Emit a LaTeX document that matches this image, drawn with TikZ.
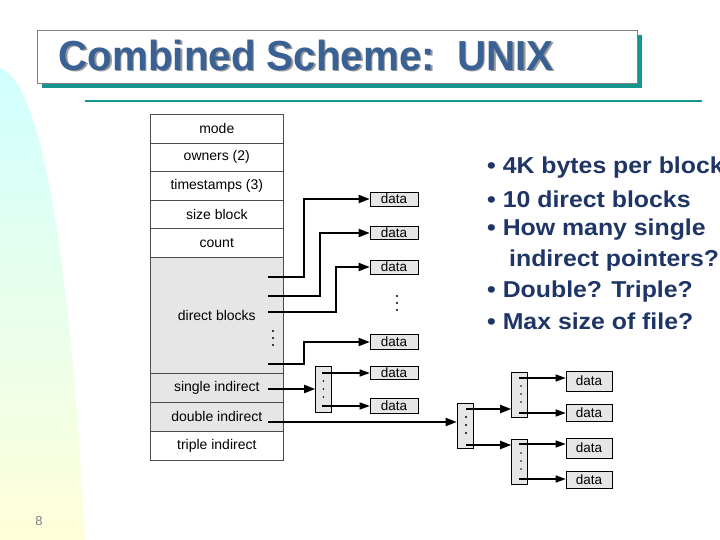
\documentclass[tikz,border=0pt]{standalone}
\usepackage{fontspec}
\setmainfont{Liberation Sans}
\usetikzlibrary{arrows.meta}
\definecolor{teal1}{HTML}{14968E}
\definecolor{titleblue}{HTML}{3A6194}
\definecolor{txtblue}{HTML}{1F3566}
\definecolor{cellgray}{HTML}{E6E6E6}
\begin{document}
\begin{tikzpicture}[x=1pt,y=-1pt,
  cell/.style={draw=black!70,line width=0.6pt,minimum width=133pt,inner sep=0pt,font=\fontsize{14}{14}\selectfont,anchor=north west},
  data/.style={draw=black,fill=cellgray,line width=0.6pt,minimum width=48pt,inner sep=0pt,font=\fontsize{13.5}{13.5}\selectfont},
  ind/.style={draw=black,fill=cellgray,line width=0.6pt,minimum width=16pt,inner sep=0pt},
  ptr/.style={line width=1.8pt,-{Triangle[length=11pt,width=8pt]}},
  thin ptr/.style={line width=1.3pt,-{Triangle[length=10pt,width=7pt]}},
  bul/.style={anchor=west,text=txtblue,font=\bfseries\fontsize{23}{23}\selectfont,inner sep=0pt,xscale=1.08},
  dot/.style={circle,fill=black,inner sep=0pt,minimum size=2.4pt}]
\useasboundingbox (0,0) rectangle (720,540);
% background crescent
\shade[top color=cyan!18,bottom color=yellow!15] (0,68) .. controls (40,80) and (70,250) .. (85,540) -- (0,540) -- cycle;
% title
\fill[teal1] (42,35) rectangle (642,88);
\node[draw=black!50,fill=white,minimum width=600pt,minimum height=53pt,anchor=north west,inner sep=0pt] (tbox) at (37,30) {};
\node[anchor=west,text=black!40,font=\bfseries\fontsize{42}{42}\selectfont,inner sep=0pt,xscale=0.96] (tshadow) at (60,56.5) {Combined Scheme:\ \ UNIX};
\node[anchor=west,text=titleblue,font=\bfseries\fontsize{42}{42}\selectfont,inner sep=0pt,xscale=0.96] (title) at (58.5,55) {Combined Scheme:\ \ UNIX};
\draw[teal1,line width=2pt] (85,101) -- (702,101);
% inode
\node[cell,minimum height=29pt] (mode) at (150,114) {mode};
\node[cell,minimum height=28pt] (own) at (150,143) {owners (2)};
\node[cell,minimum height=29pt] (ts) at (150,171) {timestamps (3)};
\node[cell,minimum height=28pt] (sz) at (150,200) {size block};
\node[cell,minimum height=29pt] (cnt) at (150,228) {count};
\node[cell,fill=cellgray,minimum height=116pt] (dir) at (150,257) {direct blocks};
\node[cell,fill=cellgray,minimum height=29pt] (sgl) at (150,373) {single indirect};
\node[cell,fill=cellgray,minimum height=29pt] (dbl) at (150,402) {double indirect};
\node[cell,minimum height=29pt] (tpl) at (150,431) {triple indirect};
% data blocks
\node[data,minimum height=14pt] (d1) at (394,199) {data};
\node[data,minimum height=13pt] (d2) at (394,233) {data};
\node[data,minimum height=14pt] (d3) at (394,267) {data};
\node[data,minimum height=15pt] (d4) at (394,342) {data};
\node[data,minimum height=13pt] (d5) at (394,373) {data};
\node[data,minimum height=15pt] (d6) at (394,406) {data};
\foreach \y in {296,303,310} \node[dot] at (397,\y) {};
\foreach \y in {331,338,345} \node[dot] at (273,\y) {};
% direct pointers
\coordinate (p1) at (268,277); \coordinate (p2) at (268,296);
\coordinate (p3) at (268,312); \coordinate (p4) at (268,364);
\draw[ptr] (p1) -| (304,199) -- (d1.west);
\draw[ptr] (p2) -| (320,233) -- (d2.west);
\draw[ptr] (p3) -| (336,267) -- (d3.west);
\draw[ptr] (p4) -| (304,342) -- (d4.west);
% single indirect
\node[ind,minimum height=46pt] (si) at (323.5,389) {};
\foreach \y in {381,389,397} \node[dot,minimum size=1.8pt] at (323.5,\y) {};
\coordinate (ps) at (268,389);
\draw[ptr] (ps) -- (si.west);
\draw[thin ptr] (322,373) -- (d5.west);
\draw[thin ptr] (322,406) -- (d6.west);
% double indirect
\node[ind,minimum height=45pt] (di) at (465,425.5) {};
\foreach \y in {417,425,433} \node[dot] at (466,\y) {};
\coordinate (pd) at (268,422);
\draw[ptr] (pd) -- (di.west |- pd);
\node[ind,minimum height=45pt] (b1) at (519.5,394.5) {};
\node[ind,minimum height=45pt] (b2) at (519.5,461.5) {};
\foreach \y in {386,394,402} \node[dot,minimum size=1.6pt] at (521,\y) {};
\foreach \y in {453,461,469} \node[dot,minimum size=1.6pt] at (521,\y) {};
\draw[ptr] (466,409) -- (b1.west |- 0,409);
\draw[ptr] (466,445) -- (b2.west |- 0,445);
\node[data,minimum width=46pt,minimum height=20pt] (e1) at (589,381) {data};
\node[data,minimum width=46pt,minimum height=17pt] (e2) at (589,412.5) {data};
\node[data,minimum width=46pt,minimum height=20pt] (e3) at (589,448) {data};
\node[data,minimum width=46pt,minimum height=17pt] (e4) at (589,479.5) {data};
\foreach \y/\t in {378/e1,413/e2,444/e3,479/e4}
  \draw[thin ptr] (519,\y) -- (\t.west |- 0,\y);
% bullets
\begin{scope}
\clip (0,0) rectangle (720,540);
\node[bul] (t1) at (487,168) {• 4K bytes per block};
\node[bul] (t2) at (487,199) {• 10 direct blocks};
\node[bul] (t3) at (487,230) {• How many single};
\node[bul] (t4) at (509,261) {indirect pointers?};
\node[bul] (t5) at (487,292) {• Double? Triple?};
\node[bul] (t6) at (487,321) {• Max size of file?};
\end{scope}
\node[text=black!50,font=\fontsize{13}{13}\selectfont,inner sep=0pt] (pg) at (39,521) {8};
\end{tikzpicture}
\end{document}
